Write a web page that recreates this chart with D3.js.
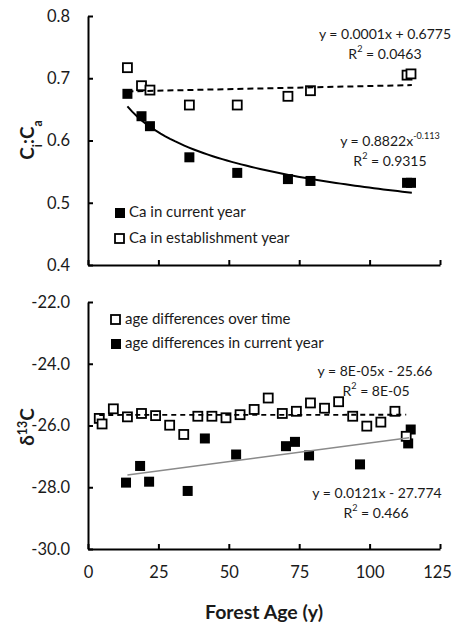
<!DOCTYPE html>
<html>
<head>
<meta charset="utf-8">
<script src="https://cdn.jsdelivr.net/npm/d3@7"></script>
<style>
  body { margin: 0; background: #fff; }
  svg { font-family: Lato, "Open Sans", sans-serif; }
  .axis path, .axis line { stroke: #000; stroke-width: 2; }
  .axis text { font-size: 16.5px; fill: #1a1a1a; font-family: Lato, sans-serif; }
</style>
</head>
<body>
<svg id="chart"></svg>
<script>
// ---- data ----
// top panel: Ci:Ca
const ciAgeCurrent = [14, 19, 22, 36, 53, 71, 79, 113.3, 114.7];
const ciCurrent    = [0.675, 0.639, 0.623, 0.573, 0.548, 0.538, 0.535, 0.532, 0.532];
const ciAgeEstab   = [14, 19, 22, 36, 53, 71, 79, 113.3, 114.7];
const ciEstab      = [0.717, 0.688, 0.681, 0.657, 0.657, 0.671, 0.680, 0.705, 0.707];

// bottom panel: d13C
const dAgeTime = [4, 5, 9, 14, 19, 24, 29, 34, 39, 44, 49, 54, 59, 64, 69, 74, 79, 84, 89, 94, 99, 104, 109, 113];
const dTime    = [-25.77, -25.95, -25.46, -25.72, -25.61, -25.68, -25.99, -26.29, -25.70, -25.70, -25.75, -25.65,
                  -25.48, -25.11, -25.61, -25.54, -25.27, -25.44, -25.23, -25.70, -26.02, -25.89, -25.54, -26.35];
const dAgeCurrent = [13.5, 18.5, 21.7, 35.4, 41.5, 52.6, 70.3, 73.5, 78.5, 96.6, 113.7, 114.6];
const dCurrent    = [-27.85, -27.31, -27.82, -28.12, -26.42, -26.94, -26.67, -26.53, -26.97, -27.26, -26.58, -26.13];

// trend lines (coefficients as printed on the chart)
const fitEstab   = { a: 0.0001, b: 0.6775, from: 14, to: 115 };
const fitPower   = { a: 0.8822, p: -0.113, from: 14, to: 115 };
const fitTime    = { a: 0.00008, b: -25.66, from: 4, to: 113 };
const fitCurrent = { a: 0.0121, b: -27.774, from: 14, to: 114 };

const xTicks = [0, 25, 50, 75, 100, 125];
const ciTicks = [0.4, 0.5, 0.6, 0.7, 0.8];
const dTicks = [-30, -28, -26, -24, -22];

const width = 453, height = 627;
const svg = d3.select("#chart").attr("width", width).attr("height", height);

const x = d3.scaleLinear().domain([0, 125]).range([88, 440]);
const yTop = d3.scaleLinear().domain([0.4, 0.8]).range([265, 16]);
const yBot = d3.scaleLinear().domain([-30, -22]).range([549, 302]);

const fmt1 = (d) => d3.format(".1f")(d).replace("\u2212", "-");

// axes
function drawAxes(y, ticks, showX) {
  const gx = svg.append("g").attr("class", "axis")
    .attr("transform", `translate(0,${y.range()[0]})`)
    .call(d3.axisBottom(x).tickValues(xTicks).tickSizeInner(-5).tickSizeOuter(0)
      .tickPadding(20).tickFormat(showX ? d3.format("d") : ""));
  gx.selectAll(".tick text").attr("dy", "0.55em")
    .attr("dx", (d) => d === 125 ? -3 : 0);
  svg.append("g").attr("class", "axis")
    .attr("transform", `translate(${x(0)},0)`)
    .call(d3.axisLeft(y).tickValues(ticks).tickSizeInner(-5).tickSizeOuter(0)
      .tickPadding(18).tickFormat(fmt1));
}
drawAxes(yTop, ciTicks, false);
drawAxes(yBot, dTicks, true);

// markers
function filled(g, xs, ys, y) {
  g.selectAll(null).data(xs).join("rect")
    .attr("x", (d) => x(d) - 5).attr("y", (d, i) => y(ys[i]) - 5)
    .attr("width", 10).attr("height", 10).attr("fill", "#000");
}
function open(g, xs, ys, y) {
  g.selectAll(null).data(xs).join("rect")
    .attr("x", (d) => x(d) - 4.5).attr("y", (d, i) => y(ys[i]) - 4.5)
    .attr("width", 9).attr("height", 9)
    .attr("fill", "#fff").attr("stroke", "#000").attr("stroke-width", 1.8);
}

const topG = svg.append("g");
filled(topG, ciAgeCurrent, ciCurrent, yTop);
open(topG, ciAgeEstab, ciEstab, yTop);

const botG = svg.append("g");
filled(botG, dAgeCurrent, dCurrent, yBot);
open(botG, dAgeTime, dTime, yBot);

// trend lines
const line = d3.line();
function fitLine(f, y, fn, n) {
  const xs = d3.range(n + 1).map((i) => f.from + (f.to - f.from) * i / n);
  return line(xs.map((v) => [x(v), y(fn(v))]));
}
svg.append("path").attr("d", fitLine(fitEstab, yTop, (v) => fitEstab.a * v + fitEstab.b, 1))
  .attr("fill", "none").attr("stroke", "#000").attr("stroke-width", 2).attr("stroke-dasharray", "6,4");
svg.append("path").attr("d", fitLine(fitPower, yTop, (v) => fitPower.a * Math.pow(v, fitPower.p), 60))
  .attr("fill", "none").attr("stroke", "#000").attr("stroke-width", 2);
svg.append("path").attr("d", fitLine(fitTime, yBot, (v) => fitTime.a * v + fitTime.b, 1))
  .attr("fill", "none").attr("stroke", "#000").attr("stroke-width", 1.8).attr("stroke-dasharray", "5,4");
svg.append("path").attr("d", fitLine(fitCurrent, yBot, (v) => fitCurrent.a * v + fitCurrent.b, 1))
  .attr("fill", "none").attr("stroke", "#8a8a8a").attr("stroke-width", 1.6);

// equation labels
function label(cx, cy, parts, size) {
  const t = svg.append("text").attr("x", cx).attr("y", cy).attr("text-anchor", "middle")
    .attr("dominant-baseline", "middle").attr("font-size", size || 14).attr("fill", "#1a1a1a");
  parts.forEach((p) => {
    const s = t.append("tspan").text(p.t);
    if (p.sup) s.attr("baseline-shift", "super").attr("font-size", "0.65em");
  });
}
label(385, 35, [{ t: "y = 0.0001x + 0.6775" }]);
label(385, 55, [{ t: "R" }, { t: "2", sup: true }, { t: " = 0.0463" }]);
label(390, 142, [{ t: "y = 0.8822x" }, { t: "-0.113", sup: true }]);
label(390, 162, [{ t: "R" }, { t: "2", sup: true }, { t: " = 0.9315" }]);
label(375, 372, [{ t: "y = 8E-05x - 25.66" }]);
label(376, 392, [{ t: "R" }, { t: "2", sup: true }, { t: " = 8E-05" }]);
label(377, 494, [{ t: "y = 0.0121x - 27.774" }]);
label(376, 514, [{ t: "R" }, { t: "2", sup: true }, { t: " = 0.466" }]);

// legends
function legendItem(lx, ly, isFilled, text) {
  svg.append("rect").attr("x", lx).attr("y", ly - 5).attr("width", isFilled ? 10 : 9).attr("height", isFilled ? 10 : 9)
    .attr("fill", isFilled ? "#000" : "#fff").attr("stroke", isFilled ? "none" : "#000").attr("stroke-width", 1.8);
  svg.append("text").attr("x", lx + 14).attr("y", ly).attr("dominant-baseline", "middle")
    .attr("font-size", 15).attr("fill", "#1a1a1a").text(text);
}
legendItem(115, 213, true, "Ca in current year");
legendItem(115, 239, false, "Ca in establishment year");
legendItem(111, 320, false, "age differences over time");
legendItem(111, 344, true, "age differences in current year");

// axis titles
svg.append("text").attr("x", x(62.5)).attr("y", 614).attr("text-anchor", "middle")
  .attr("dominant-baseline", "middle").attr("font-size", 19.5).attr("font-weight", "bold")
  .attr("fill", "#1a1a1a").text("Forest Age (y)");

const t1 = svg.append("text").attr("transform", "translate(34,140) rotate(-90)")
  .attr("text-anchor", "middle").attr("font-size", 19).attr("font-weight", "bold").attr("fill", "#1a1a1a");
t1.append("tspan").text("C");
t1.append("tspan").text("i").attr("baseline-shift", "sub").attr("font-size", "0.65em");
t1.append("tspan").text(":C");
t1.append("tspan").text("a").attr("baseline-shift", "sub").attr("font-size", "0.65em");

const t2 = svg.append("text").attr("transform", "translate(34,427) rotate(-90)")
  .attr("text-anchor", "middle").attr("font-size", 19).attr("font-weight", "bold").attr("fill", "#1a1a1a");
t2.append("tspan").text("δ");
t2.append("tspan").text("13").attr("baseline-shift", "super").attr("font-size", "0.65em");
t2.append("tspan").text("C");
</script>
</body>
</html>
